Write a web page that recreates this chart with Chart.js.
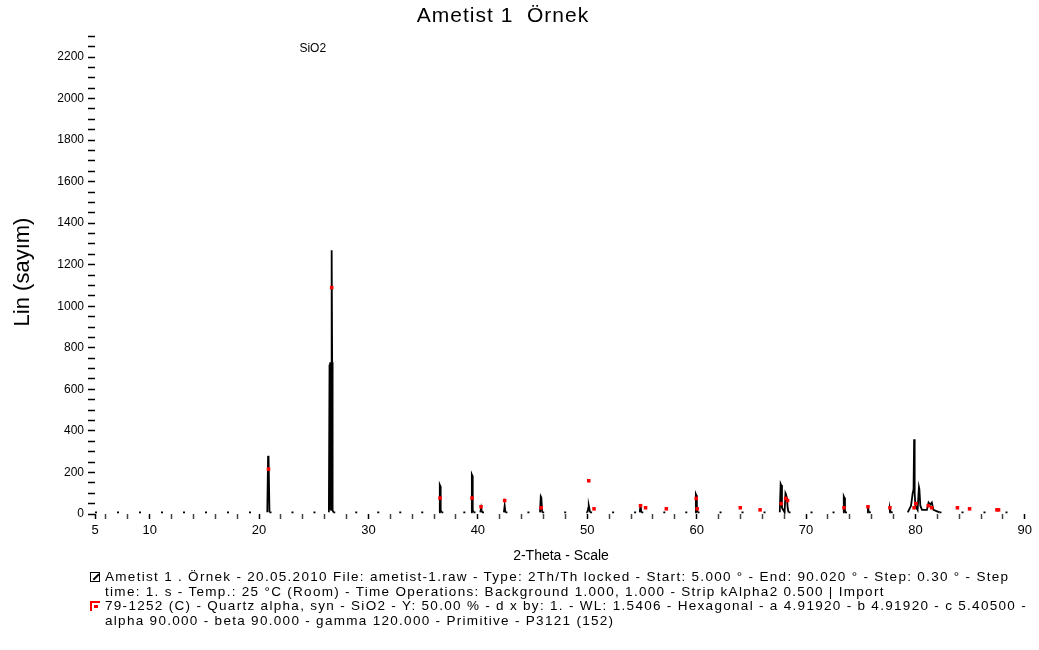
<!DOCTYPE html>
<html>
<head>
<meta charset="utf-8">
<script src="https://cdn.jsdelivr.net/npm/chart.js@4.4.0/dist/chart.umd.min.js"></script>
<style>
  body { margin: 0; background: #fff; font-family: "Liberation Sans", Arial, sans-serif; }
  #wrap { position: relative; width: 1039px; height: 650px; }
  #chart { position: absolute; left: 0; top: 0; }
  #legend { position: absolute; left: 90px; top: 570px; font-size: 13.5px; line-height: 14.5px; letter-spacing: 1.3px; color: #000; }
  .row { position: relative; padding-left: 15px; white-space: nowrap; }
  .ico { position: absolute; left: 0; top: 2px; width: 10px; height: 10px; box-sizing: border-box; }
  .ico.raw { border: 1.5px solid #000; }
  .ico.raw::after { content: ""; position: absolute; left: 1px; top: 3px; width: 8px; height: 1.5px; background: #000; transform: rotate(-45deg); }
  .ico.ref { border-top: 2px solid #f00; border-left: 2px solid #f00; }
  .ico.ref::after { content: ""; position: absolute; left: 2px; top: 2px; width: 4px; height: 3px; background: #f00; }
</style>
</head>
<body>
<div id="wrap">
  <canvas id="chart" width="1039" height="570"></canvas>
  <div id="legend">
    <div class="row"><span class="ico raw"></span>Ametist 1 . Örnek - 20.05.2010 File: ametist-1.raw - Type: 2Th/Th locked - Start: 5.000 ° - End: 90.020 ° - Step: 0.30 ° - Step</div>
    <div class="row">time: 1. s - Temp.: 25 °C (Room) - Time Operations: Background 1.000, 1.000 - Strip kAlpha2 0.500 | Import</div>
    <div class="row"><span class="ico ref"></span>79-1252 (C) - Quartz alpha, syn - SiO2 - Y: 50.00 % - d x by: 1. - WL: 1.5406 - Hexagonal - a 4.91920 - b 4.91920 - c 5.40500 -</div>
    <div class="row">alpha 90.000 - beta 90.000 - gamma 120.000 - Primitive - P3121 (152)</div>
  </div>
</div>
<script>
// ölçüm verisi (2-Theta, Lin sayım)
const rawTheta = [5, 6.5, 20.75, 20.82, 20.85, 20.88, 20.95, 26.38, 26.44, 26.47, 26.5, 26.53, 26.56, 26.59, 26.62, 26.65, 26.68, 26.72, 26.78,
  36.45, 36.52, 36.56, 36.6, 36.66, 39.38, 39.45, 39.49, 39.53, 39.6, 40.22, 40.3, 40.38, 42.38, 42.45, 42.52,
  45.68, 45.75, 45.8, 45.88, 50.02, 50.1, 50.14, 50.18, 50.26, 54.8, 54.87, 54.94,
  59.86, 59.93, 59.97, 60.02, 60.08, 67.6, 67.68, 67.72, 67.8, 68.04, 68.12, 68.16, 68.26, 68.32, 68.4,
  73.38, 73.45, 73.49, 73.56, 75.58, 75.66, 75.74, 77.6, 77.67, 77.74, 79.3, 79.6, 79.75, 79.83, 79.88, 79.93, 80.0,
  80.2, 80.32, 80.36, 80.45, 80.6, 81.05, 81.2, 81.35, 81.5, 81.65, 82.2, 90.0];
const rawCounts = [8, 8, 8, 275, 280, 275, 8, 8, 720, 20, 730, 20, 730, 20, 730, 1270, 730, 20, 8,
  8, 140, 135, 20, 8, 8, 190, 185, 20, 8, 8, 30, 8, 8, 40, 8,
  8, 85, 80, 8, 8, 30, 40, 30, 8, 8, 45, 8,
  8, 95, 90, 20, 8, 8, 145, 140, 30, 8, 100, 95, 75, 30, 8,
  8, 85, 80, 8, 8, 35, 8, 8, 25, 8, 8, 40, 100, 120, 360, 100, 40,
  20, 130, 120, 40, 20, 20, 55, 45, 55, 20, 8, 8];

// 79-1252 Quartz referans çizgileri
const refTheta = [20.86, 26.64, 36.54, 39.47, 40.29, 42.45, 45.79, 50.14, 50.62, 54.87, 55.33, 57.23, 59.96, 60.05,
  63.99, 65.8, 67.74, 68.14, 68.31, 73.47, 75.66, 77.67, 79.88, 80.04, 81.17, 81.49, 83.84, 84.95, 87.45, 87.6];
const refCounts = [216, 1090, 77, 77, 35, 65, 30, 160, 25, 40, 30, 25, 75, 25,
  30, 20, 50, 75, 65, 30, 35, 30, 30, 50, 40, 30, 30, 25, 20, 20];

// eksen işaretleri
const xTickValues = [5, 6, 8, 10, 12, 14, 16, 18, 20, 22, 24, 26, 28, 30, 32, 34, 36, 38, 40, 42, 44, 46, 48, 50,
  52, 54, 56, 58, 60, 62, 64, 66, 68, 70, 72, 74, 76, 78, 80, 82, 84, 86, 88, 90];
const xLabelValues = [5, 10, 20, 30, 40, 50, 60, 70, 80, 90];
const yLabelStep = 200;
const yMinorStep = 50;

const chartTitle = 'Ametist 1  Örnek';
const phaseLabel = 'SiO2';

const rawPoints = rawTheta.map((t, i) => ({ x: t, y: rawCounts[i] }));
const refPoints = refTheta.map((t, i) => ({ x: t, y: refCounts[i] }));

const FONT = '"Liberation Sans", Arial, sans-serif';

// başlık ve faz etiketi
const textPlugin = {
  id: 'texts',
  afterDraw(chart) {
    const c = chart.ctx;
    const xs = chart.scales.x;
    const ys = chart.scales.y;
    c.save();
    c.fillStyle = '#000';
    c.textBaseline = 'middle';
    c.textAlign = 'center';
    c.font = '21px ' + FONT;
    c.letterSpacing = '1px';
    c.fillText(chartTitle, 503, 16);
    c.letterSpacing = '0px';
    c.font = '12px ' + FONT;
    c.fillText(phaseLabel, xs.getPixelForValue(26.64) - 19, ys.getPixelForValue(2240));
    c.restore();
  },
};

new Chart(document.getElementById('chart'), {
  type: 'scatter',
  data: {
    datasets: [
      {
        label: 'Ametist 1',
        data: rawPoints,
        showLine: true,
        borderColor: '#000',
        borderWidth: 1.8,
        pointRadius: 0,
        segment: {
          borderDash: (ctx) =>
            ctx.p0.parsed.y < 12 && ctx.p1.parsed.y < 12 ? [2, 20] : undefined,
        },
        order: 2,
      },
      {
        label: '79-1252 Quartz',
        data: refPoints,
        showLine: false,
        pointStyle: 'rect',
        pointRadius: 2.5,
        backgroundColor: '#ff0000',
        borderColor: '#ff0000',
        borderWidth: 0,
        order: 1,
      },
    ],
  },
  options: {
    responsive: false,
    animation: false,
    layout: { padding: { top: 30, right: 12, left: 0, bottom: 0 } },
    plugins: {
      legend: { display: false },
      tooltip: { enabled: false },
    },
    scales: {
      x: {
        type: 'linear',
        min: 5,
        max: 90.2,
        afterFit: (scale) => { scale.height = 56; },
        afterBuildTicks: (scale) => {
          scale.ticks = xTickValues.map((v) => ({ value: v }));
        },
        border: { display: false },
        grid: {
          drawOnChartArea: false,
          tickLength: 5,
          tickWidth: 1.5,
          tickColor: (ctx) => (ctx.tick && xLabelValues.includes(ctx.tick.value) ? '#000' : '#444'),
        },
        ticks: {
          padding: 4,
          color: '#000',
          maxRotation: 0,
          autoSkip: false,
          font: { size: 13, family: FONT },
          callback: (v) => (xLabelValues.includes(v) ? String(v) : ''),
        },
        title: {
          display: true,
          text: '2-Theta - Scale',
          color: '#000',
          padding: { top: 2, bottom: 5 },
          font: { size: 14, family: FONT },
        },
      },
      y: {
        min: 0,
        max: 2330,
        afterFit: (scale) => { scale.width = 95; },
        afterBuildTicks: (scale) => {
          const t = [];
          for (let v = 0; v <= 2300; v += yMinorStep) t.push({ value: v });
          scale.ticks = t;
        },
        border: { display: false },
        grid: {
          drawOnChartArea: false,
          tickLength: 7,
          tickWidth: 1.5,
          tickColor: '#000',
        },
        ticks: {
          padding: 4,
          color: '#000',
          autoSkip: false,
          font: { size: 12, family: FONT },
          callback: (v) => (v % yLabelStep === 0 ? String(v) : ''),
        },
        title: {
          display: true,
          text: 'Lin (sayım)',
          color: '#000',
          padding: { top: 10, bottom: 4 },
          font: { size: 22, family: FONT },
        },
      },
    },
  },
  plugins: [textPlugin],
});
</script>
</body>
</html>
